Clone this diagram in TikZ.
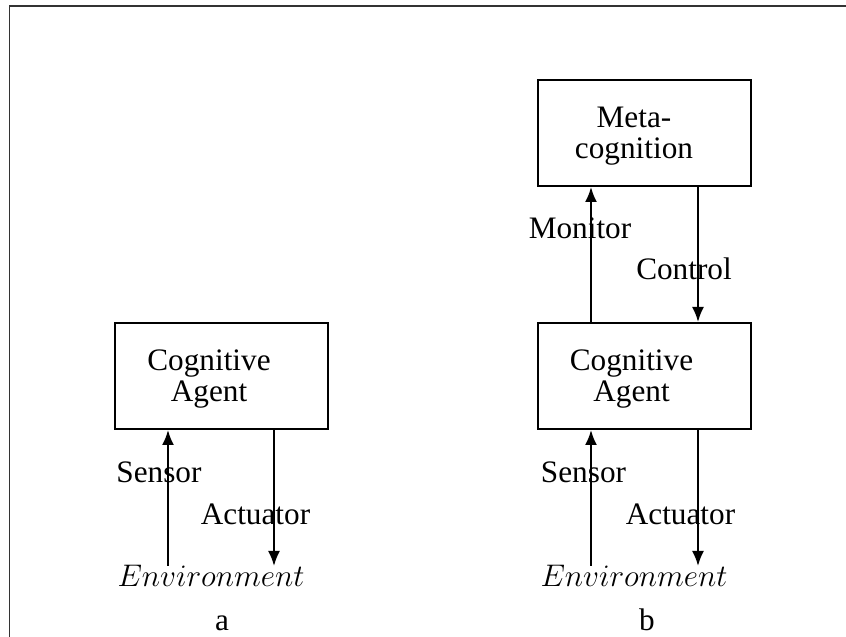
\RequirePackage{fix-cm}
\documentclass[tikz,border=0pt]{standalone}
\usepackage{fontspec}
\setmainfont{Liberation Serif}
\usetikzlibrary{arrows.meta}
\begin{document}
\begin{tikzpicture}[x=0.4pt, y=-0.4pt,
  every node/.style={font=\fontsize{12.5}{12.4}\selectfont, inner sep=0pt},
  box/.style={draw, line width=0.8pt, minimum width=85pt, minimum height=42.4pt},
  lbl/.style={anchor=base},
  flow/.style={line width=0.8pt, -{Latex[length=6pt, width=4.8pt]}},
  frame/.style={line width=0.7pt, black!80}]
  \useasboundingbox (0,0) rectangle (846,637);

  % page frame (left and top edges)
  \draw[frame] (9.5,637) -- (9.5,6) -- (846,6);

  % ---- panel a ----
  \node[box] (agentA) at (221.5,376) {};
  \node[align=center] (agentAtxt) at (209,379) {Cognitive\\Agent};
  \node[lbl] (envA) at (211,587) {$Environment$};
  \coordinate (senA) at (168,566);
  \coordinate (actA) at (274,566);
  \draw[flow] (senA) -- (senA |- agentA.south);
  \draw[flow] (actA |- agentA.south) -- (actA);
  \node[lbl] (senAl) at (159,483) {Sensor};
  \node[lbl] (actAl) at (255.5,525) {Actuator};
  \node[lbl] (capA) at (222,631) {a};

  % ---- panel b ----
  \node[box] (meta) at (644.5,133) {};
  \node[align=center] (metatxt) at (634,136) {Meta-\\cognition};
  \node[box] (agentB) at (644.5,376) {};
  \node[align=center] (agentBtxt) at (631.5,379) {Cognitive\\Agent};
  \node[lbl] (envB) at (634,587) {$Environment$};
  \coordinate (senB) at (591,566);
  \coordinate (actB) at (698,566);
  \draw[flow] (senB) -- (senB |- agentB.south);
  \draw[flow] (actB |- agentB.south) -- (actB);
  \draw[flow] (senB |- agentB.north) -- (senB |- meta.south);
  \draw[flow] (actB |- meta.south) -- (actB |- agentB.north);
  \node[lbl] (senBl) at (583.5,483) {Sensor};
  \node[lbl] (actBl) at (680.5,525) {Actuator};
  \node[lbl] (monl) at (580,239) {Monitor};
  \node[lbl] (ctll) at (684,280) {Control};
  \node[lbl] (capB) at (647,631) {b};
\end{tikzpicture}
\end{document}
